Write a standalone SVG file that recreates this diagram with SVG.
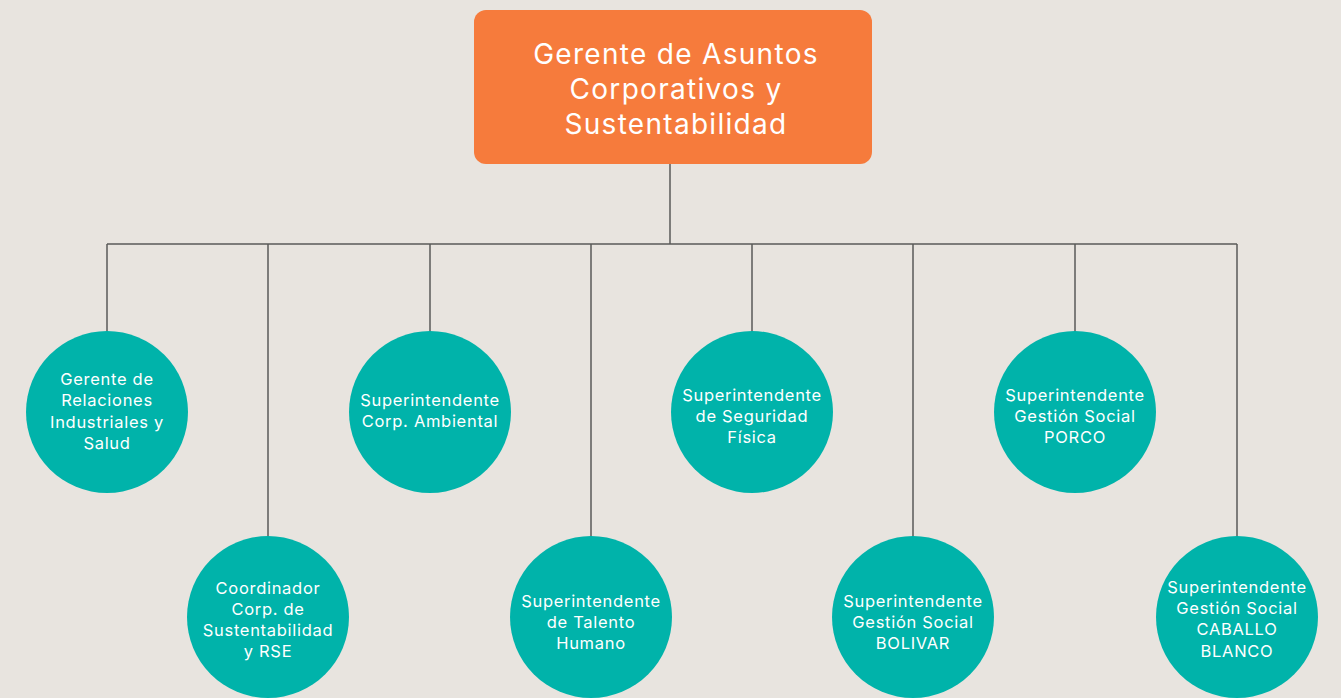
<svg xmlns="http://www.w3.org/2000/svg" width="1341" height="698" viewBox="0 0 1341 698">
<style>
.bg{fill:#E8E4DF}
.box{fill:#F67B3C}
.c{fill:#00B3AA}
.t{font-family:Inter,"Open Sans","Liberation Sans",sans-serif;fill:#FFFFFF;text-anchor:middle}
.tt{font-size:28px;letter-spacing:1.3px}
.ct{font-size:16.5px;letter-spacing:0.7px}
.ln{stroke:#5A5A5A;stroke-width:1.5;fill:none}
</style>
<rect class="bg" x="0" y="0" width="1341" height="698"/>
<g id="connectors">
<path class="ln" d="M670,164 V244 M107,244 H1237 M107,244 V331 M268,244 V536 M430,244 V331 M591,244 V536 M752,244 V331 M913,244 V536 M1075,244 V331 M1237,244 V536"/>
</g>
<g id="root">
<rect class="box" x="474" y="10" width="398" height="154" rx="12"/>
<text class="t tt" x="676" y="64">Gerente de Asuntos</text>
<text class="t tt" x="676" y="99">Corporativos y</text>
<text class="t tt" x="676" y="134">Sustentabilidad</text>
</g>
<g id="n1">
<circle class="c" cx="107" cy="412" r="81"/>
<text class="t ct" x="107" y="385">Gerente de</text>
<text class="t ct" x="107" y="406">Relaciones</text>
<text class="t ct" x="107" y="428">Industriales y</text>
<text class="t ct" x="107" y="449">Salud</text>
</g>
<g id="n2">
<circle class="c" cx="268" cy="617" r="81"/>
<text class="t ct" x="268" y="594">Coordinador</text>
<text class="t ct" x="268" y="615">Corp. de</text>
<text class="t ct" x="268" y="636">Sustentabilidad</text>
<text class="t ct" x="268" y="657">y RSE</text>
</g>
<g id="n3">
<circle class="c" cx="430" cy="412" r="81"/>
<text class="t ct" x="430" y="406">Superintendente</text>
<text class="t ct" x="430" y="427">Corp. Ambiental</text>
</g>
<g id="n4">
<circle class="c" cx="591" cy="617" r="81"/>
<text class="t ct" x="591" y="607">Superintendente</text>
<text class="t ct" x="591" y="628">de Talento</text>
<text class="t ct" x="591" y="649">Humano</text>
</g>
<g id="n5">
<circle class="c" cx="752" cy="412" r="81"/>
<text class="t ct" x="752" y="401">Superintendente</text>
<text class="t ct" x="752" y="422">de Seguridad</text>
<text class="t ct" x="752" y="443">Física</text>
</g>
<g id="n6">
<circle class="c" cx="913" cy="617" r="81"/>
<text class="t ct" x="913" y="607">Superintendente</text>
<text class="t ct" x="913" y="628">Gestión Social</text>
<text class="t ct" x="913" y="649">BOLIVAR</text>
</g>
<g id="n7">
<circle class="c" cx="1075" cy="412" r="81"/>
<text class="t ct" x="1075" y="401">Superintendente</text>
<text class="t ct" x="1075" y="422">Gestión Social</text>
<text class="t ct" x="1075" y="443">PORCO</text>
</g>
<g id="n8">
<circle class="c" cx="1237" cy="617" r="81"/>
<text class="t ct" x="1237" y="593">Superintendente</text>
<text class="t ct" x="1237" y="614">Gestión Social</text>
<text class="t ct" x="1237" y="635">CABALLO</text>
<text class="t ct" x="1237" y="657">BLANCO</text>
</g>
</svg>
